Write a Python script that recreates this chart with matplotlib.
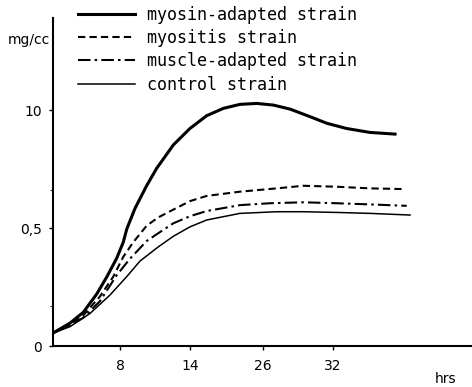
import matplotlib
matplotlib.use("Agg")
import matplotlib.pyplot as plt

# x positions are in evenly spaced axis units (tick labels are non-linear)
tick_pos = [0.96, 1.96, 3.0, 4.0]
tick_labels = ["8", "14", "26", "32"]

myosin_x = [0, 0.243, 0.433, 0.624, 0.767, 0.91, 1.004, 1.053, 1.171, 1.339, 1.481, 1.719, 1.957,
            2.196, 2.433, 2.671, 2.91, 3.147, 3.386, 3.671, 3.91, 4.19, 4.529, 4.886]
myosin_y = [0.055, 0.097, 0.143, 0.22, 0.292, 0.372, 0.44, 0.495, 0.583, 0.68, 0.753, 0.852, 0.922,
            0.976, 1.007, 1.024, 1.028, 1.021, 1.004, 0.972, 0.944, 0.922, 0.905, 0.898]

myositis_x = [0, 0.243, 0.433, 0.671, 0.861, 1.004, 1.147, 1.339, 1.504, 1.719, 1.957, 2.196,
              2.671, 3.196, 3.576, 4.053, 4.529, 5.004]
myositis_y = [0.055, 0.09, 0.13, 0.21, 0.294, 0.378, 0.44, 0.51, 0.545, 0.578, 0.614, 0.636,
              0.654, 0.668, 0.679, 0.675, 0.668, 0.665]

muscle_x = [0, 0.243, 0.433, 0.671, 0.91, 1.1, 1.339, 1.504, 1.719, 1.957, 2.196, 2.671, 3.1, 3.576,
            4.053, 4.529, 5.053]
muscle_y = [0.055, 0.087, 0.12, 0.19, 0.30, 0.37, 0.445, 0.478, 0.52, 0.55, 0.572, 0.597, 0.605, 0.609,
            0.605, 0.600, 0.594]

control_x = [0, 0.243, 0.529, 0.814, 1.053, 1.243, 1.504, 1.719, 1.957, 2.196, 2.671, 3.196, 3.576,
             4.053, 4.529, 5.1]
control_y = [0.055, 0.082, 0.138, 0.216, 0.294, 0.36, 0.42, 0.465, 0.505, 0.534, 0.562, 0.569, 0.569,
             0.566, 0.562, 0.555]

labels = ["myosin-adapted strain", "myositis strain", "muscle-adapted strain", "control strain"]

plt.rcParams['font.family'] = ['DejaVu Sans']
fig = plt.figure(figsize=(4.72, 3.87), dpi=100)
ax = fig.add_axes([53/472, 41/387, 1 - 53/472, 328/387])

common = dict(color='black', solid_joinstyle='round', dash_joinstyle='round')
ax.plot(myosin_x, myosin_y, lw=2.2, label=labels[0], **common)
ax.plot(myositis_x, myositis_y, lw=1.5, dashes=(3.5, 2.0), label=labels[1], **common)
ax.plot(muscle_x, muscle_y, lw=1.5, dashes=(6, 2, 1.2, 2), label=labels[2], **common)
ax.plot(control_x, control_y, lw=1.1, label=labels[3], **common)

ax.set_xlim(0, 419/70)
ax.set_ylim(0, 1.39)
ax.set_xticks(tick_pos)
ax.set_xticklabels(tick_labels, fontsize=10)
ax.set_yticks([0, 0.5, 1.0])
ax.set_yticklabels(["0", "0,5", "10"], fontsize=10)
ax.set_yticks([0.17, 0.66], minor=True)
ax.tick_params(axis='both', direction='out', length=3, width=1)
ax.tick_params(axis='x', pad=6)
ax.tick_params(axis='y', pad=5)
ax.tick_params(axis='y', which='minor', length=2)
for s in ['top', 'right']:
    ax.spines[s].set_visible(False)
for s in ['left', 'bottom']:
    ax.spines[s].set_linewidth(1.5)

leg = ax.legend(loc='upper left', bbox_to_anchor=(78/472, 1 - 6/387), bbox_transform=fig.transFigure,
                frameon=False, prop={'family': 'DejaVu Sans Mono', 'size': 12},
                handlelength=3.41, handletextpad=0.72, labelspacing=0.31,
                borderaxespad=0, borderpad=0)

fig.text(8/472, 1 - 40/387, "mg/cc", fontsize=10, ha='left', va='center')
fig.text(446/472, 1 - 379/387, "hrs", fontsize=10, ha='center', va='center')

fig.savefig("out.png", dpi=100, facecolor='white')
